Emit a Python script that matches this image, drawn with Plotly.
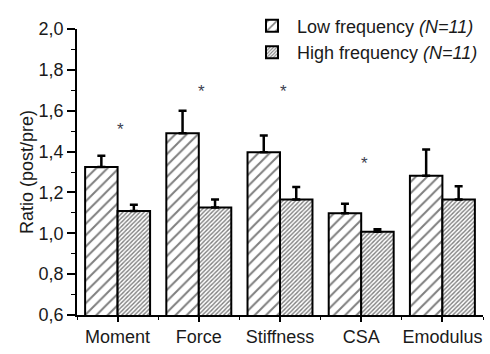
import plotly.graph_objects as go

categories = ["Moment", "Force", "Stiffness", "CSA", "Emodulus"]
low_freq = [1.325, 1.49, 1.397, 1.098, 1.282]
low_err = [0.055, 0.11, 0.082, 0.047, 0.128]
high_freq = [1.109, 1.126, 1.165, 1.007, 1.165]
high_err = [0.031, 0.039, 0.061, 0.013, 0.065]
star_cats = [0, 1, 2, 3]
star_y = [1.532, 1.719, 1.719, 1.366]

FONT = "Liberation Sans, Arial, sans-serif"
TXT = "#1a1a1a"
xpos = list(range(len(categories)))

fig = go.Figure()
fig.add_trace(go.Bar(
    x=xpos, y=low_freq, name="Low frequency <i>(N=11)</i>",
    marker=dict(color="white", line=dict(color="black", width=2),
                pattern=dict(shape="/", size=8, solidity=0.25, fgcolor="black", bgcolor="white")),
    error_y=dict(type="data", symmetric=False, array=low_err, arrayminus=[0] * len(low_err),
                 color="black", thickness=2.5, width=4),
))
fig.add_trace(go.Bar(
    x=xpos, y=high_freq, name="High frequency <i>(N=11)</i>",
    marker=dict(color="white", line=dict(color="black", width=2),
                pattern=dict(shape="/", size=3, solidity=0.45, fgcolor="black", bgcolor="white")),
    error_y=dict(type="data", symmetric=False, array=high_err, arrayminus=[0] * len(high_err),
                 color="black", thickness=2.5, width=4),
))

for c, y in zip(star_cats, star_y):
    fig.add_annotation(x=c, y=y, text="*", showarrow=False, xshift=3, yshift=-5,
                       font=dict(family=FONT, size=17, color="#3c4050"))

fig.update_layout(
    width=490, height=354,
    margin=dict(l=77, r=7, t=29, b=26),
    paper_bgcolor="white", plot_bgcolor="white",
    barmode="group", bargap=0.2, bargroupgap=0,
    separators=",.",
    font=dict(family=FONT, size=18, color=TXT),
    legend=dict(x=1.0, xanchor="right", y=1.075, yanchor="top",
                bgcolor="rgba(0,0,0,0)", font=dict(size=18, color=TXT),
                tracegroupgap=0, itemwidth=40),
    showlegend=True,
)
fig.update_xaxes(
    range=[-0.5, 4.5], tickmode="array", tickvals=xpos, ticktext=categories,
    showline=True, linecolor="black", linewidth=1.5, ticks="outside", ticklen=5,
    tickwidth=1.5, tickcolor="black", showgrid=False, zeroline=False,
    minor=dict(ticks="outside", ticklen=3, tickwidth=1.2, tickcolor="black", tick0=0.5, dtick=1),
    tickfont=dict(size=18),
)
fig.update_yaxes(
    range=[0.6, 2.0], dtick=0.2, tick0=0.6, tickformat=".1f",
    showline=True, linecolor="black", linewidth=1.5, ticks="outside", ticklen=8,
    tickwidth=1.5, tickcolor="black", showgrid=False, zeroline=False,
    minor=dict(ticks="outside", ticklen=4, tickwidth=1.2, tickcolor="black", dtick=0.1),
    title=dict(text="Ratio (post/pre)", font=dict(size=18), standoff=0),
    tickfont=dict(size=18),
)

fig.write_html("out.html")
